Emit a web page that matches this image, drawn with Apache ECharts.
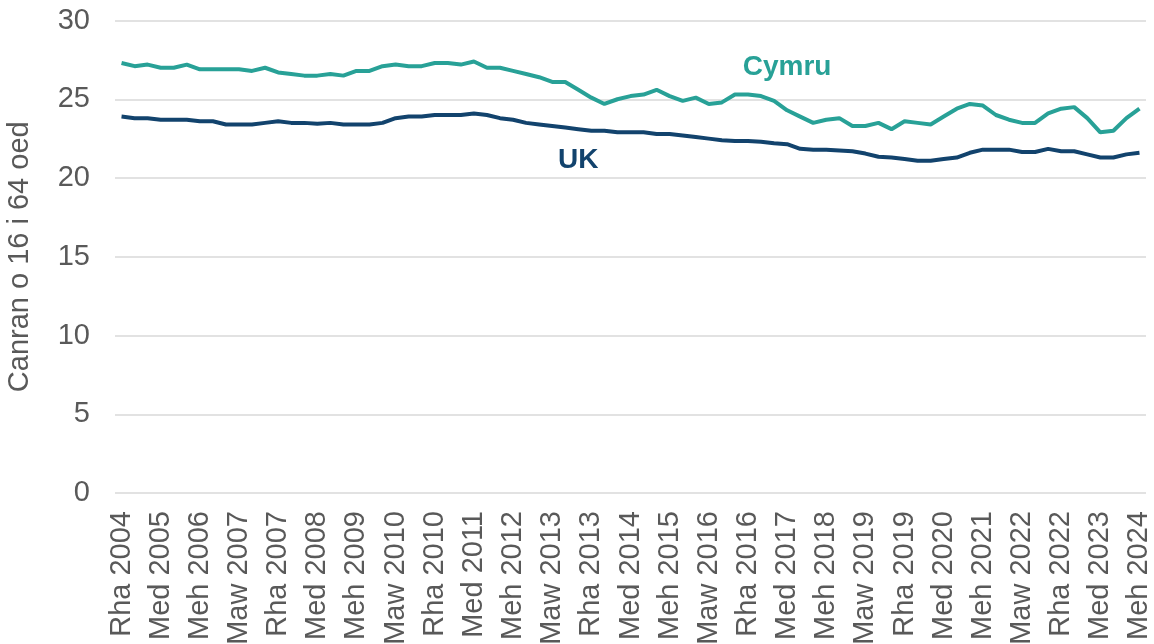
<!DOCTYPE html>
<html>
<head>
<meta charset="utf-8">
<script src="https://cdn.jsdelivr.net/npm/echarts@6/dist/echarts.min.js"></script>
<style>
  html, body { margin: 0; padding: 0; background: #fff; }
  #chart { width: 1154px; height: 644px; }
</style>
</head>
<body>
<div id="chart"></div>
<script>
// quarterly, Rhagfyr 2004 to Mehefin 2024
const monthNames = ['Rha', 'Maw', 'Meh', 'Med'];
const firstYear = 2004;
const quarterCount = 79;
const quarters = Array.from({ length: quarterCount }, (_, i) =>
  `${monthNames[i % 4]} ${firstYear + Math.floor((i + 3) / 4)}`);

const cymru = [
  27.3, 27.1, 27.2, 27.0, 27.0, 27.2, 26.9, 26.9, 26.9, 26.9,
  26.8, 27.0, 26.7, 26.6, 26.5, 26.5, 26.6, 26.5, 26.8, 26.8,
  27.1, 27.2, 27.1, 27.1, 27.3, 27.3, 27.2, 27.4, 27.0, 27.0,
  26.8, 26.6, 26.4, 26.1, 26.1, 25.6, 25.1, 24.7, 25.0, 25.2,
  25.3, 25.6, 25.2, 24.9, 25.1, 24.7, 24.8, 25.3, 25.3, 25.2,
  24.9, 24.3, 23.9, 23.5, 23.7, 23.8, 23.3, 23.3, 23.5, 23.1,
  23.6, 23.5, 23.4, 23.9, 24.4, 24.7, 24.6, 24.0, 23.7, 23.5,
  23.5, 24.1, 24.4, 24.5, 23.8, 22.9, 23.0, 23.8, 24.4
];

const uk = [
  23.9, 23.8, 23.8, 23.7, 23.7, 23.7, 23.6, 23.6, 23.4, 23.4,
  23.4, 23.5, 23.6, 23.5, 23.5, 23.45, 23.5, 23.4, 23.4, 23.4,
  23.5, 23.8, 23.9, 23.9, 24.0, 24.0, 24.0, 24.1, 24.0, 23.8,
  23.7, 23.5, 23.4, 23.3, 23.2, 23.1, 23.0, 23.0, 22.9, 22.9,
  22.9, 22.8, 22.8, 22.7, 22.6, 22.5, 22.4, 22.35, 22.35, 22.3,
  22.2, 22.15, 21.85, 21.8, 21.8, 21.75, 21.7, 21.55, 21.35, 21.3,
  21.2, 21.1, 21.1, 21.2, 21.3, 21.6, 21.8, 21.8, 21.8, 21.65,
  21.65, 21.85, 21.7, 21.7, 21.5, 21.3, 21.3, 21.5, 21.6
];

const yAxisName = 'Canran o 16 i 64 oed';
const fontFamily = '"Liberation Sans", Arial, sans-serif';
const labelColor = '#595959';

function seriesLabel(text, color, at, value) {
  return {
    symbol: 'circle',
    symbolSize: 1,
    silent: true,
    itemStyle: { color: 'rgba(0,0,0,0)' },
    label: {
      show: true,
      position: 'inside',
      formatter: text,
      color: color,
      fontFamily: fontFamily,
      fontSize: 28,
      fontWeight: 'bold'
    },
    data: [{ coord: [quarters[at], value] }]
  };
}

const chart = echarts.init(document.getElementById('chart'));
chart.setOption({
  animation: false,
  grid: { left: 115, right: 8, top: 20.5, bottom: 151, outerBoundsMode: 'none', containLabel: false },
  xAxis: {
    type: 'category',
    data: quarters,
    boundaryGap: true,
    axisLine: { show: false },
    axisTick: { show: false },
    axisLabel: {
      interval: 2,
      rotate: 90,
      margin: 18,
      color: labelColor,
      fontFamily: fontFamily,
      fontSize: 29
    }
  },
  yAxis: {
    type: 'value',
    min: 0,
    max: 30,
    interval: 5,
    name: yAxisName,
    nameLocation: 'middle',
    nameRotate: 90,
    nameGap: 81,
    nameTextStyle: { color: labelColor, fontFamily: fontFamily, fontSize: 29 },
    axisLine: { show: false },
    axisTick: { show: false },
    axisLabel: {
      margin: 25,
      color: labelColor,
      fontFamily: fontFamily,
      fontSize: 29
    },
    splitLine: { lineStyle: { color: '#d9d9d9', width: 1.5 } }
  },
  series: [
    {
      name: 'Cymru',
      type: 'line',
      data: cymru,
      symbol: 'none',
      lineStyle: { color: '#28A197', width: 4 },
      markPoint: seriesLabel('Cymru', '#28A197', 51, 27.0)
    },
    {
      name: 'UK',
      type: 'line',
      data: uk,
      symbol: 'none',
      lineStyle: { color: '#12436D', width: 4 },
      markPoint: seriesLabel('UK', '#12436D', 35, 21.1)
    }
  ]
});
</script>
</body>
</html>
